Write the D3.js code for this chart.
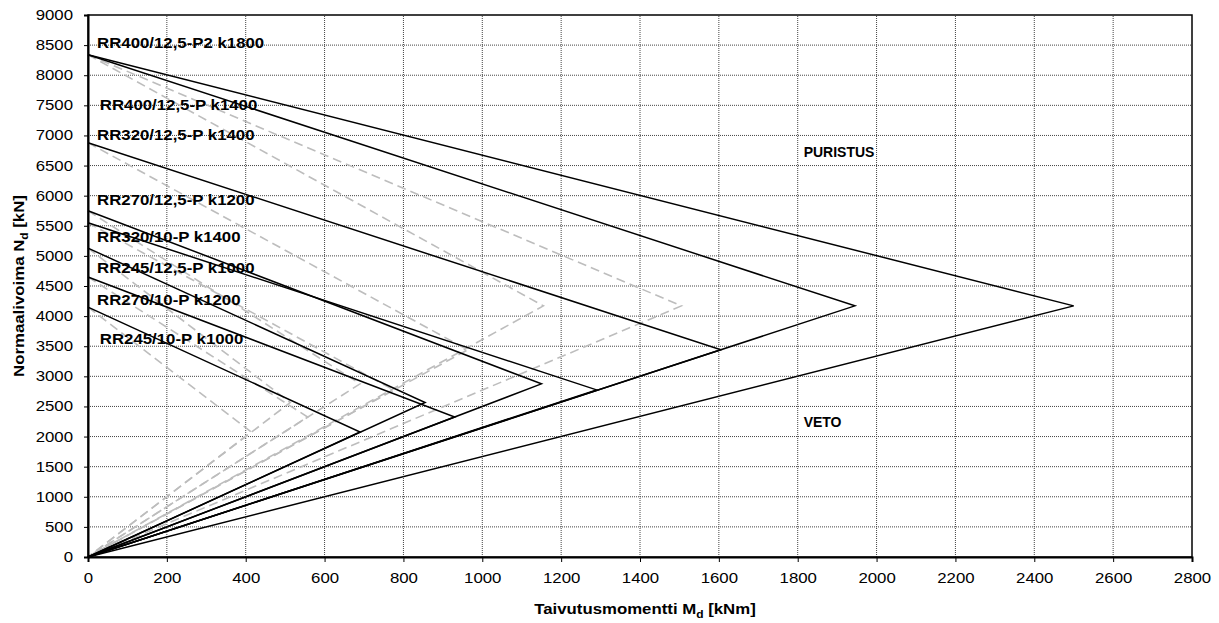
<!DOCTYPE html>
<html>
<head>
<meta charset="utf-8">
<script src="https://cdn.jsdelivr.net/npm/d3@7"></script>
<style>
  body { margin: 0; background: #fff; }
  text { font-family: "Liberation Sans", Arial, sans-serif; }
  .tick text { font-size: 14px; fill: #000; }
  .sec-label { font-size: 14px; font-weight: bold; }
  .zone-label { font-size: 14px; font-weight: bold; }
  .axis-title { font-size: 14px; font-weight: bold; }
</style>
</head>
<body>
<div id="chart"></div>
<script>
// section names and their interaction-diagram points
const sections = ["RR400/12,5-P2 k1800", "RR400/12,5-P k1400", "RR320/12,5-P k1400", "RR270/12,5-P k1200",
                  "RR320/10-P k1400", "RR245/12,5-P k1000", "RR270/10-P k1200", "RR245/10-P k1000"];
const topN = [8340, 8340, 6880, 5750, 5550, 5130, 4650, 4150];
const peakN = [4170, 4170, 3440, 2875, 2775, 2565, 2325, 2075];
const peakM = [2500, 1945, 1605, 1150, 1290, 855, 930, 690];
const dashPeakM = [1505, 1155, 963, 690, 775, 513, 557, 414];
const labelM = [23, 30, 23, 23, 23, 23, 23, 30];
const labelN = [8530, 7500, 7000, 5920, 5310, 4790, 4270, 3620];
const zoneLabels = ["PURISTUS", "VETO"];
const zoneM = [1815, 1815];
const zoneN = [6720, 2235];
const xTicks = d3.range(0, 2801, 200);
const yTicks = d3.range(0, 9001, 500);

const W = 1219, H = 623;
const m = { left: 88, right: 27, top: 15, bottom: 66 };
const SX = 1.2; // reference text is drawn a little wide

const svg = d3.select("#chart").append("svg").attr("width", W).attr("height", H);

const x = d3.scaleLinear().domain([0, 2800]).range([m.left, W - m.right]);
const y = d3.scaleLinear().domain([0, 9000]).range([H - m.bottom, m.top]);

// grid
svg.append("g").selectAll("line").data(xTicks.slice(1, -1)).enter().append("line")
    .attr("x1", d => x(d)).attr("x2", d => x(d)).attr("y1", y(0)).attr("y2", y(9000))
    .attr("stroke", "#444").attr("stroke-width", 1).attr("stroke-dasharray", "1,1");
svg.append("g").selectAll("line").data(yTicks.slice(1, -1)).enter().append("line")
    .attr("x1", x(0)).attr("x2", x(2800)).attr("y1", d => y(d)).attr("y2", d => y(d))
    .attr("stroke", "#444").attr("stroke-width", 1).attr("stroke-dasharray", "1,1");

const line = d3.line().x(d => x(d[0])).y(d => y(d[1]));

// dashed gray curves
svg.append("g").selectAll("path").data(sections).enter().append("path")
    .attr("d", (d, i) => line([[0, topN[i]], [dashPeakM[i], peakN[i]], [0, 0]]))
    .attr("fill", "none").attr("stroke", "#bdbdbd").attr("stroke-width", 1.6)
    .attr("stroke-dasharray", "9,5");

// solid black curves
svg.append("g").selectAll("path").data(sections).enter().append("path")
    .attr("d", (d, i) => line([[0, topN[i]], [peakM[i], peakN[i]], [0, 0]]))
    .attr("fill", "none").attr("stroke", "#000").attr("stroke-width", 1.5);

// frame
svg.append("rect").attr("x", x(0)).attr("y", y(9000))
    .attr("width", x(2800) - x(0)).attr("height", y(0) - y(9000))
    .attr("fill", "none").attr("stroke", "#000").attr("stroke-width", 1.5);

// axes
const xAxis = svg.append("g").attr("transform", `translate(0,${y(0)})`)
    .call(d3.axisBottom(x).tickValues(xTicks).tickFormat(d3.format("d")).tickSize(5).tickPadding(11));
const yAxis = svg.append("g").attr("transform", `translate(${x(0)},0)`)
    .call(d3.axisLeft(y).tickValues(yTicks).tickFormat(d3.format("d")).tickSize(4).tickPadding(11));
[xAxis, yAxis].forEach(a => {
    a.select(".domain").attr("stroke", "#000").attr("stroke-width", 2);
    a.selectAll(".tick line").attr("stroke", "#000");
});
xAxis.selectAll(".tick text").attr("transform", `scale(${SX},1)`);
yAxis.selectAll(".tick text").attr("x", -15 / SX).attr("transform", `scale(${SX},1)`);

// section labels
svg.append("g").selectAll("text").data(sections).enter().append("text")
    .attr("class", "sec-label")
    .attr("transform", (d, i) => `translate(${x(labelM[i])},${y(labelN[i])}) scale(${SX},1)`)
    .attr("dy", "0.35em").text(d => d);

svg.append("g").selectAll("text").data(zoneLabels).enter().append("text")
    .attr("class", "zone-label")
    .attr("x", (d, i) => x(zoneM[i])).attr("y", (d, i) => y(zoneN[i]))
    .attr("dy", "0.35em").text(d => d);

// axis titles
const xt = svg.append("text").attr("class", "axis-title")
    .attr("transform", `translate(${(x(0) + x(2800)) / 2 + 5},614) scale(${SX},1)`)
    .attr("text-anchor", "middle");
xt.append("tspan").text("Taivutusmomentti M");
xt.append("tspan").attr("dy", 4).attr("font-size", 10).text("d");
xt.append("tspan").attr("dy", -4).text(" [kNm]");

const yt = svg.append("text").attr("class", "axis-title")
    .attr("transform", `translate(24,${(y(0) + y(9000)) / 2}) rotate(-90) scale(${SX},1)`)
    .attr("text-anchor", "middle");
yt.append("tspan").text("Normaalivoima N");
yt.append("tspan").attr("dy", 4).attr("font-size", 10).text("d");
yt.append("tspan").attr("dy", -4).text(" [kN]");
</script>
</body>
</html>
